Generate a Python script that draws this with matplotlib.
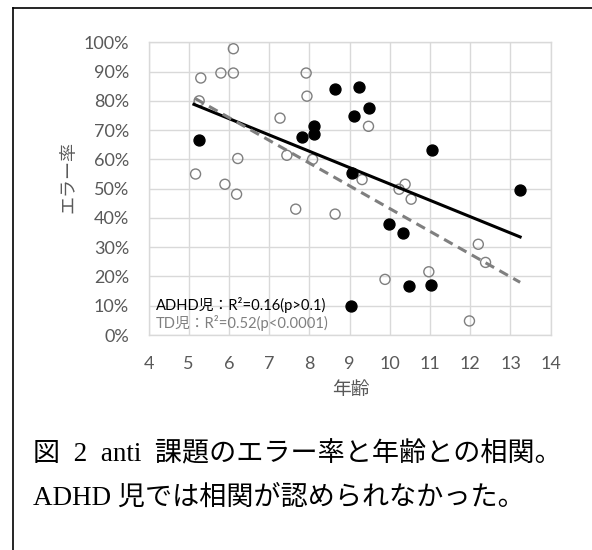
import matplotlib.pyplot as plt
from matplotlib.lines import Line2D
from matplotlib.ticker import FuncFormatter

# TD children (open circles): age, error rate (%)
td_age = [6.11, 5.30, 5.80, 6.11, 7.92, 7.94, 5.26, 7.27, 9.47, 6.22, 7.44, 8.08, 5.17,
          5.90, 6.19, 7.66, 8.64, 9.31, 10.38, 10.23, 10.53, 12.20, 12.38, 9.88, 10.97, 11.98]
td_err = [97.8, 87.8, 89.5, 89.5, 89.5, 81.6, 80.0, 74.1, 71.3, 60.3, 61.4, 60.0, 55.0,
          51.5, 48.1, 43.0, 41.3, 53.1, 51.5, 49.8, 46.4, 31.0, 24.8, 19.0, 21.6, 4.8]

# ADHD children (filled circles)
adhd_age = [8.64, 9.24, 9.49, 9.11, 8.11, 8.11, 7.81, 5.26, 9.05, 11.04, 13.24, 9.97,
            10.34, 10.47, 11.02, 9.03]
adhd_err = [84.2, 84.7, 77.7, 74.7, 71.4, 68.8, 67.7, 66.6, 55.2, 63.1, 49.7, 37.9,
            34.9, 16.7, 17.1, 10.0]

# trend lines (end points)
adhd_fit_x = [5.13, 13.24]
adhd_fit_y = [78.8, 33.5]
td_fit_x = [5.16, 13.24]
td_fit_y = [80.8, 18.0]

x_ticks = list(range(4, 15))
y_ticks = list(range(0, 101, 10))

adhd_label = "ADHD児：R²=0.16(p>0.1)"
td_label = "TD児：R²=0.52(p<0.0001)"
caption_1 = "図  2  anti  課題のエラー率と年齢との相関。"
caption_2 = "ADHD 児では相関が認められなかった。"

SANS = ["Lato", "Noto Sans CJK JP"]
CAPTION = ["Liberation Serif", "Noto Sans CJK JP"]
GRID = "#d9d9d9"
TICK = "#595959"

W, H = 592, 550
fig = plt.figure(figsize=(W / 100, H / 100), dpi=100)
ax = fig.add_axes([148.5 / W, 1 - 335 / H, 402.2 / W, 292.7 / H])

ax.scatter(td_age, td_err, s=52, facecolors="none", edgecolors="#7f7f7f",
           linewidths=1.0, zorder=3)
ax.scatter(adhd_age, adhd_err, s=62, color="black", zorder=3)
ax.plot(adhd_fit_x, adhd_fit_y, color="black", lw=2.2, zorder=4)
ax.plot(td_fit_x, td_fit_y, color="#7f7f7f", lw=2.2, dashes=(3.2, 2.0), zorder=4)

ax.set_xlim(4, 14)
ax.set_ylim(0, 100)
ax.set_xticks(x_ticks)
ax.set_yticks(y_ticks)
ax.yaxis.set_major_formatter(FuncFormatter(lambda v, _: f"{v:.0f}%"))
ax.grid(True, color=GRID, lw=1.0)
ax.set_axisbelow(True)
for s in ax.spines.values():
    s.set_color(GRID)
    s.set_linewidth(1.0)
ax.tick_params(length=0, colors=TICK, labelsize=13)
ax.tick_params(axis="y", pad=14)
ax.tick_params(axis="x", pad=15)
for lab in ax.get_xticklabels() + ax.get_yticklabels():
    lab.set_family(SANS)

fig.text(68 / W, 1 - 177 / H, "エラー率", rotation=90, ha="center", va="center",
         color=TICK, fontsize=13, family=SANS)
fig.text(351 / W, 1 - 390 / H, "年齢", ha="center", va="center",
         color=TICK, fontsize=13.5, family=SANS)

ax.text(0.019, 0.102, adhd_label, transform=ax.transAxes, va="center",
        color="black", fontsize=10.6, family=SANS)
ax.text(0.019, 0.041, td_label, transform=ax.transAxes, va="center",
        color="#7f7f7f", fontsize=10.6, family=SANS)

fig.text(33 / W, 1 - 461 / H, caption_1, ha="left", va="baseline",
         color="black", fontsize=19.5, family=CAPTION)
fig.text(33 / W, 1 - 505 / H, caption_2, ha="left", va="baseline",
         color="black", fontsize=19.5, family=CAPTION)

# outer frame (top and left edges)
fx, fy = 13 / W, 1 - 8 / H
fig.add_artist(Line2D([fx, 1], [fy, fy], color="black", lw=1.2))
fig.add_artist(Line2D([fx, fx], [0, fy], color="black", lw=1.2))

fig.savefig("out.png", dpi=100)
